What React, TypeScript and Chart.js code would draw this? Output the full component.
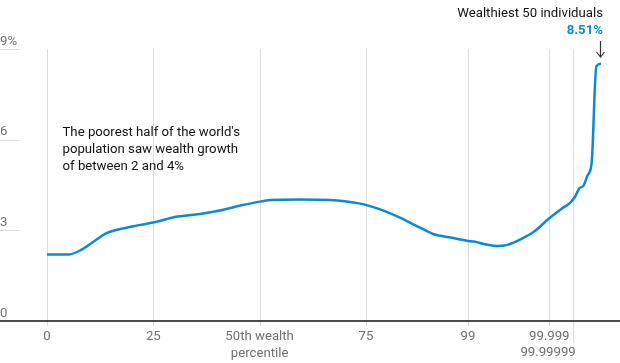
import React, { useEffect, useRef } from "react";
import { Chart, registerables } from "chart.js";

Chart.register(...registerables);

// ---- Data ----
const percentiles = [
  0, 5, 8, 11, 14, 16.5, 22, 26, 30, 36, 41.5, 45.5, 50, 52.5, 59.5, 66.5, 70, 73, 76, 79, 83, 88, 91, 95, 99,
  99.4, 99.81, 99.918, 99.965, 99.989, 99.9964, 99.999, 99.9999, 99.999984, 99.9999938, 99.9999972,
  99.9999988, 99.99999946, 99.99999975, 99.9999999, 99.99999996,
];
const growth = [
  2.2, 2.2, 2.35, 2.63, 2.91, 3.02, 3.18, 3.29, 3.44, 3.54, 3.68, 3.82, 3.95, 4.0, 4.02, 4.0, 3.96, 3.9, 3.8,
  3.66, 3.42, 3.07, 2.87, 2.76, 2.65, 2.63, 2.52, 2.48, 2.52, 2.71, 2.96, 3.4, 3.7, 3.92, 4.12, 4.39, 4.48,
  4.83, 5.22, 8.42, 8.51,
];
const xTickPercentiles = [0, 25, 50, 75, 99, 99.999, 99.99999];
const xTickLabels = [["0"], ["25"], ["50th wealth", "percentile"], ["75"], ["99"], ["99.999"], ["99.99999"]];
const yTicks = [0, 3, 6, 9];
const yTickLabels = ["0", "3", "6", "9%"];
const annotationLines = [
  "The poorest half of the world's",
  "population saw wealth growth",
  "of between 2 and 4%",
];
const calloutTitle = "Wealthiest 50 individuals";
const calloutValue = "8.51%";

// ---- Styling ----
const FONT = 'Roboto, "Noto Sans", sans-serif';
const BLUE = "#0a8ad2";
const GRID = "#dcdcdc";
const LABEL = "#707070";
const INK = "#121212";

// axis transform: linear up to the 99th percentile, then log of the top share
function toAxis(p: number): number {
  if (p <= 99) return p;
  const d = Math.log10(1 / (100 - p));
  if (d <= 3) return 99 + d * 6.37;
  return 118.1 + (d - 3) * 2.77;
}

const decorPlugin = {
  id: "decor",
  beforeDatasetsDraw(chart: any) {
    const { ctx, scales } = chart;
    const x = scales.x;
    const y = scales.y;
    const top = y.getPixelForValue(9);
    const base = y.getPixelForValue(0);
    ctx.save();
    ctx.strokeStyle = GRID;
    ctx.lineWidth = 1;
    xTickPercentiles.forEach((p, i) => {
      const px = Math.round(x.getPixelForValue(toAxis(p))) + 0.5;
      ctx.beginPath();
      ctx.moveTo(px, top);
      ctx.lineTo(px, base + (i === xTickPercentiles.length - 1 ? 22 : 5));
      ctx.stroke();
    });
    yTicks.forEach((v) => {
      if (v === 0) return;
      const py = Math.round(y.getPixelForValue(v)) + 0.5;
      ctx.beginPath();
      ctx.moveTo(0, py);
      ctx.lineTo(19, py);
      ctx.stroke();
    });
    ctx.strokeStyle = INK;
    ctx.lineWidth = 1.6;
    ctx.beginPath();
    ctx.moveTo(0, base);
    ctx.lineTo(chart.width, base);
    ctx.stroke();
    ctx.restore();
  },
  afterDraw(chart: any) {
    const { ctx, scales } = chart;
    const x = scales.x;
    const y = scales.y;
    ctx.save();
    // y labels
    ctx.font = `13.2px ${FONT}`;
    ctx.fillStyle = LABEL;
    ctx.textAlign = "left";
    ctx.textBaseline = "alphabetic";
    yTicks.forEach((v, i) => {
      ctx.fillText(yTickLabels[i], 0, y.getPixelForValue(v) - 4.5);
    });
    // x labels
    const base = y.getPixelForValue(0);
    xTickPercentiles.forEach((p, i) => {
      const px = x.getPixelForValue(toAxis(p));
      const lines = xTickLabels[i];
      if (i === xTickPercentiles.length - 1) {
        ctx.textAlign = "right";
        ctx.fillText(lines[0], px + 3, base + 35);
      } else {
        ctx.textAlign = "center";
        lines.forEach((ln, j) => ctx.fillText(ln, px, base + 19 + j * 16.5));
      }
    });
    // annotation
    ctx.fillStyle = INK;
    ctx.textAlign = "left";
    annotationLines.forEach((ln, j) => ctx.fillText(ln, 62.5, 135.5 + j * 17));
    // callout
    const lastP = percentiles[percentiles.length - 1];
    const lx = x.getPixelForValue(toAxis(lastP));
    ctx.textAlign = "right";
    ctx.fillText(calloutTitle, 603, 16.5);
    ctx.font = `bold 13.2px ${FONT}`;
    ctx.fillStyle = BLUE;
    ctx.fillText(calloutValue, 603, 34);
    // arrow
    const ax = Math.round(lx) - 0.5;
    ctx.strokeStyle = "#333";
    ctx.lineWidth = 1.2;
    ctx.beginPath();
    ctx.moveTo(ax, 41);
    ctx.lineTo(ax, 57);
    ctx.moveTo(ax - 4, 52);
    ctx.lineTo(ax, 57);
    ctx.lineTo(ax + 4, 52);
    ctx.stroke();
    ctx.restore();
  },
};

export default function App() {
  const ref = useRef<HTMLCanvasElement | null>(null);
  useEffect(() => {
    if (!ref.current) return;
    const points = percentiles.map((p, i) => ({ x: toAxis(p), y: growth[i] }));
    const chart = new Chart(ref.current, {
      type: "line",
      data: {
        datasets: [
          {
            data: points,
            borderColor: BLUE,
            borderWidth: 2.5,
            pointRadius: 0,
            cubicInterpolationMode: "monotone",
            fill: false,
            clip: false as any,
          },
        ],
      },
      options: {
        responsive: false,
        animation: false,
        devicePixelRatio: 1,
        layout: { padding: { left: 47, right: 19, top: 49, bottom: 42 } },
        plugins: { legend: { display: false }, tooltip: { enabled: false } },
        scales: {
          x: { type: "linear", display: false, min: 0, max: toAxis(percentiles[percentiles.length - 1]) },
          y: { type: "linear", display: false, min: 0, max: 9 },
        },
      },
      plugins: [decorPlugin],
    });
    return () => chart.destroy();
  }, []);
  return (
    <div style={{ position: "fixed", left: 0, top: 0, width: 620, height: 363, background: "#fff" }}>
      <canvas ref={ref} width={620} height={363} style={{ width: 620, height: 363 }} />
    </div>
  );
}
